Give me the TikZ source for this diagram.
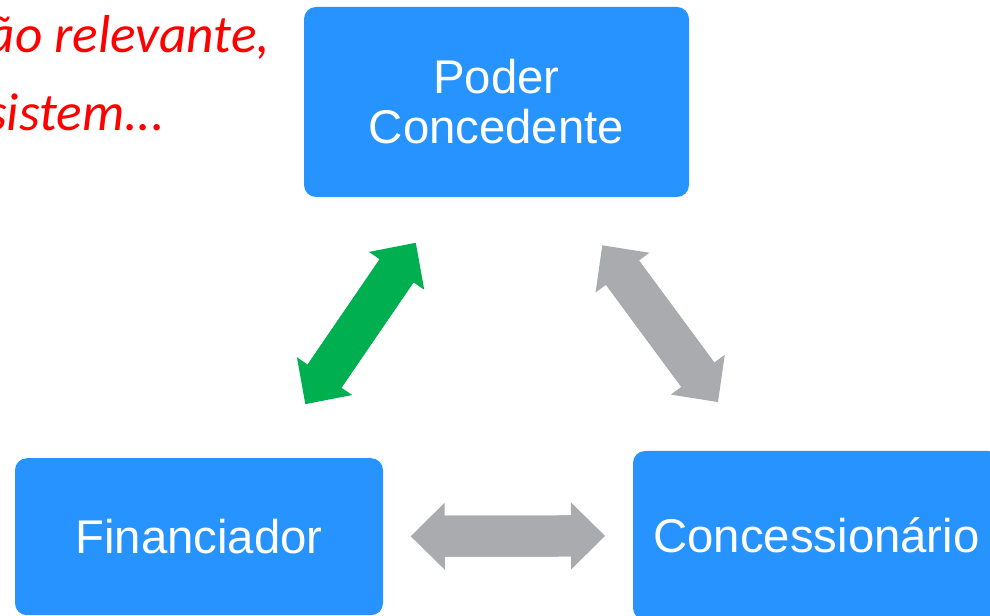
\documentclass[tikz,border=0pt]{standalone}
\usepackage{fontspec}
\setmainfont{Liberation Sans}
\newfontfamily\notefont{Carlito}
\usetikzlibrary{arrows.meta}
\definecolor{boxblue}{RGB}{38,147,255}
\definecolor{linkgreen}{RGB}{0,176,80}
\definecolor{linkgray}{RGB}{170,171,175}
\definecolor{notered}{RGB}{255,0,0}
\tikzset{
	party/.style={fill=boxblue, text=white, rounded corners=9pt, inner sep=0pt, align=center,
		font=\fontsize{35.5}{37.5}\selectfont},
	link/.style 2 args={line width=30.75pt, >={Triangle[width=50.25pt,length=25.5pt,line width=0pt]}, <->,
		shorten <=#1, shorten >=#2,
		postaction={draw, -, shorten <=#1+20pt, shorten >=#2+20pt}},
	note/.style={anchor=base east, inner sep=0pt, text=notered,
		font=\notefont\itshape\fontsize{40}{40}\selectfont}
}

\begin{document}
\begin{tikzpicture}[x=0.75pt, y=-0.75pt]
			\useasboundingbox (0,0) rectangle (990,616);
			\clip (0,0) rectangle (990,616);
			% the three parties
			\node[party, minimum width=288.75pt, minimum height=142.5pt] (pc) at (496.5,102) {Poder\\Concedente};
			\node[party, minimum width=276pt, minimum height=117.75pt] (fin) at (199,536.7) {Financiador};
			\node[party, minimum width=275.25pt, minimum height=126.75pt] (conc) at (816.5,535.5) {Concessionário};
			% links
			\draw[linkgreen, link={127pt}{121.4pt}]
				([shift={(10.7,7.2)}]fin.center) -- ([shift={(10.7,7.2)}]pc.center);
			\draw[linkgray, link={133.6pt}{124.4pt}] (pc.center) -- (conc.center);
			\draw[linkgray, link={158.8pt}{158.6pt}] (fin.center) -- (conc.center);
			% note, cut off at the left
			\node[note] (note1) at (270,53) {ão relevante,};
			\node[note] (note2) at (165,131) {sistem...};
		\end{tikzpicture}
\end{document}
